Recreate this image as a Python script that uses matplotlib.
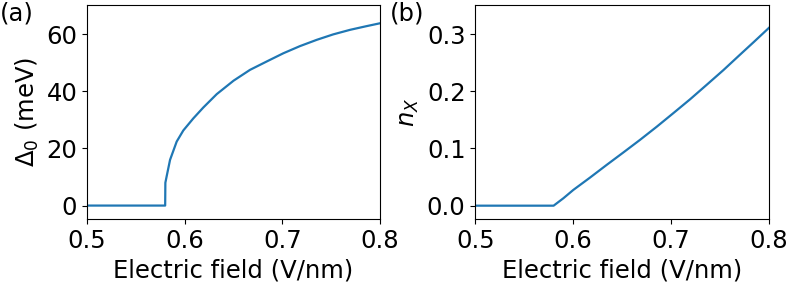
import numpy as np
import matplotlib.pyplot as plt

# values
field_a = [0.5, 0.55, 0.58, 0.5802, 0.5815, 0.585, 0.5918, 0.5986, 0.6088, 0.619,
           0.6328, 0.65, 0.6669, 0.685, 0.701, 0.718, 0.7352, 0.752, 0.7693, 0.785, 0.8]
gap_meV = [0, 0, 0, 8.0, 10.2, 16.0, 22.4, 26.3, 30.5, 34.3,
           39.0, 43.7, 47.5, 50.6, 53.3, 55.8, 58.0, 59.9, 61.5, 62.7, 63.8]

field_b = [0.5, 0.55, 0.58, 0.59, 0.6001, 0.6171, 0.6342, 0.6512, 0.6682, 0.6853,
           0.7023, 0.7194, 0.7364, 0.7534, 0.7704, 0.785, 0.8]
n_x = [0, 0, 0, 0.013, 0.0275, 0.049, 0.0713, 0.093, 0.115, 0.138,
       0.1618, 0.186, 0.2114, 0.237, 0.264, 0.287, 0.311]

fs = 17.5
plt.rcParams['font.size'] = fs

fig = plt.figure(figsize=(7.89, 2.82), dpi=100)
ax1 = fig.add_axes([0.1103, 0.2234, 0.3714, 0.759])
ax2 = fig.add_axes([0.6024, 0.2234, 0.3722, 0.759])

ax1.plot(field_a, gap_meV, color='#1f77b4', lw=1.6)
ax1.set_xlim(0.5, 0.8)
ax1.set_ylim(-4.7, 70.2)
ax1.set_xticks([0.5, 0.6, 0.7, 0.8])
ax1.set_yticks([0, 20, 40, 60])
ax1.set_xlabel('Electric field (V/nm)')
ax1.set_ylabel(r'$\Delta_0$ (meV)')

ax2.plot(field_b, n_x, color='#1f77b4', lw=1.6)
ax2.set_xlim(0.5, 0.8)
ax2.set_ylim(-0.0233, 0.351)
ax2.set_xticks([0.5, 0.6, 0.7, 0.8])
ax2.set_yticks([0.0, 0.1, 0.2, 0.3])
ax2.set_xlabel('Electric field (V/nm)')
ax2.set_ylabel(r'$n_X$')

fig.text(0.0, 0.995, '(a)', va='top', ha='left')
fig.text(390 / 789, 0.995, '(b)', va='top', ha='left')

fig.savefig('out.png', dpi=100)
